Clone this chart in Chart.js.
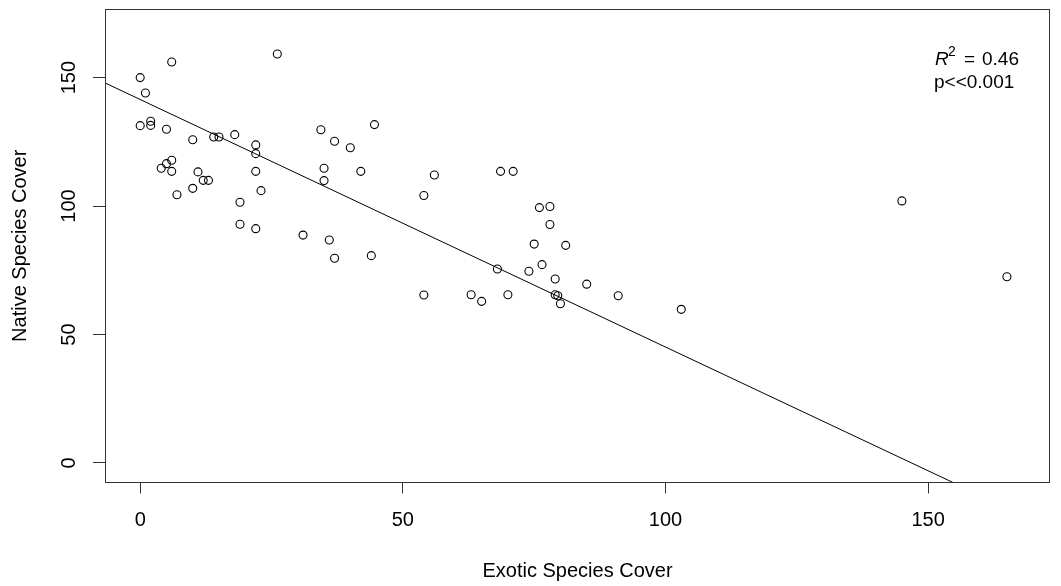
<!DOCTYPE html>
<html>
<head>
<meta charset="utf-8">
<script src="https://cdn.jsdelivr.net/npm/chart.js@4/dist/chart.umd.min.js"></script>
<style>
  html, body { margin: 0; padding: 0; background: #ffffff; }
  #wrap { width: 1061px; height: 586px; position: relative; }
</style>
</head>
<body>
<div id="wrap"><canvas id="c" width="1061" height="586"></canvas></div>
<script>
// ---- data ----
const exoticCover = [26.1, 6, 0, 1, 0, 2, 2, 5, 10, 14, 15, 18, 22, 22, 6, 5, 4, 6, 11, 12, 13, 22, 10, 7, 23, 19, 19, 22, 31,
  34.4, 44.6, 37, 40, 35, 35, 42, 56, 54, 36, 37, 44, 54,
  68.6, 71, 76, 78, 78, 75, 81, 68, 74, 76.5, 79, 85, 63, 65, 70, 79, 79.5, 80, 91, 103, 145, 165];
const nativeCover = [159.2, 156.1, 150, 144, 131.3, 133, 131.4, 129.9, 125.8, 126.9, 126.9, 127.8, 123.8, 120.4, 117.8, 116.5, 114.7, 113.5, 113.3, 110, 110, 113.5, 106.9, 104.4, 106, 101.5, 92.9, 91.2, 88.7,
  129.7, 131.7, 125.2, 122.7, 114.7, 109.9, 113.5, 112.1, 104.1, 86.8, 79.7, 80.7, 65.4,
  113.5, 113.5, 99.4, 99.8, 92.8, 85.2, 84.7, 75.5, 74.6, 77.2, 71.6, 69.6, 65.5, 62.9, 65.5, 65.5, 65.1, 62, 65.1, 59.8, 102, 72.5];
// fitted regression line end points (clipped by the plot area)
const fitX = [-10, 170];
const fitY = [151.1, -22.3];
const xTickValues = [0, 50, 100, 150];
const yTickValues = [0, 50, 100, 150];
const xTitle = 'Exotic Species Cover';
const yTitle = 'Native Species Cover';
const statLine1Value = '0.46';
const statLine2 = 'p<<0.001';

const FONT = '"Liberation Sans", Arial, sans-serif';
const INK = '#000000';

const points = exoticCover.map((x, i) => ({ x: x, y: nativeCover[i] }));
const fitLine = fitX.map((x, i) => ({ x: x, y: fitY[i] }));

const rPlotDecor = {
  id: 'rPlotDecor',
  afterDraw(chart) {
    const ctx = chart.ctx;
    const a = chart.chartArea;
    const ys = chart.scales.y;
    ctx.save();
    // box around plot region
    ctx.strokeStyle = '#333333';
    ctx.lineWidth = 1;
    ctx.strokeRect(Math.round(a.left) + 0.5, Math.round(a.top) + 0.5,
                   Math.round(a.right - a.left) - 1, Math.round(a.bottom - a.top) - 1);
    // rotated y tick labels (R style, reading upwards)
    ctx.fillStyle = INK;
    ctx.font = '20px ' + FONT;
    ctx.textAlign = 'center';
    ctx.textBaseline = 'alphabetic';
    yTickValues.forEach(v => {
      const py = ys.getPixelForValue(v);
      ctx.save();
      ctx.translate(75, py);
      ctx.rotate(-Math.PI / 2);
      ctx.fillText(String(v), 0, 0);
      ctx.restore();
    });
    // statistics annotation
    ctx.textAlign = 'left';
    ctx.font = 'italic 19px ' + FONT;
    ctx.fillText('R', 935, 65);
    ctx.font = '14px ' + FONT;
    ctx.fillText('2', 948, 56);
    ctx.font = '19px ' + FONT;
    ctx.fillText('=', 964, 65);
    ctx.fillText(statLine1Value, 982, 65);
    ctx.fillText(statLine2, 934, 88);
    ctx.restore();
  }
};

new Chart(document.getElementById('c'), {
  type: 'scatter',
  data: {
    datasets: [
      {
        label: 'sites',
        data: points,
        showLine: false,
        pointStyle: 'circle',
        pointRadius: 4,
        pointHoverRadius: 4,
        pointBorderWidth: 1.1,
        pointBorderColor: INK,
        pointBackgroundColor: 'rgba(0,0,0,0)'
      },
      {
        label: 'fit',
        type: 'line',
        data: fitLine,
        showLine: true,
        borderColor: INK,
        borderWidth: 1,
        pointRadius: 0,
        fill: false,
        tension: 0
      }
    ]
  },
  options: {
    responsive: false,
    animation: false,
    events: [],
    layout: { padding: { top: 9, right: 11, left: 0, bottom: 0 } },
    plugins: { legend: { display: false }, tooltip: { enabled: false } },
    scales: {
      x: {
        type: 'linear',
        min: -6.7,
        max: 173.2,
        afterFit(scale) { scale.height = 103.5; },
        afterBuildTicks(scale) { scale.ticks = xTickValues.map(v => ({ value: v })); },
        grid: { display: true, drawOnChartArea: false, drawTicks: true, tickLength: 11, color: '#333333', lineWidth: 1 },
        border: { display: false },
        ticks: { color: INK, font: { family: FONT, size: 20 }, padding: 15, maxRotation: 0, minRotation: 0 },
        title: { display: true, text: xTitle, color: INK, font: { family: FONT, size: 20 }, padding: { top: 0, bottom: 3 } }
      },
      y: {
        type: 'linear',
        min: -7.6,
        max: 176.7,
        afterFit(scale) { scale.width = 105; },
        afterBuildTicks(scale) { scale.ticks = yTickValues.map(v => ({ value: v })); },
        grid: { display: true, drawOnChartArea: false, drawTicks: true, tickLength: 12, color: '#333333', lineWidth: 1 },
        border: { display: false },
        ticks: { color: 'rgba(0,0,0,0)', font: { family: FONT, size: 1 }, padding: 0 },
        title: { display: true, text: yTitle, color: INK, font: { family: FONT, size: 20 }, padding: { top: 8, bottom: 0 } }
      }
    }
  },
  plugins: [rPlotDecor]
});
</script>
</body>
</html>
